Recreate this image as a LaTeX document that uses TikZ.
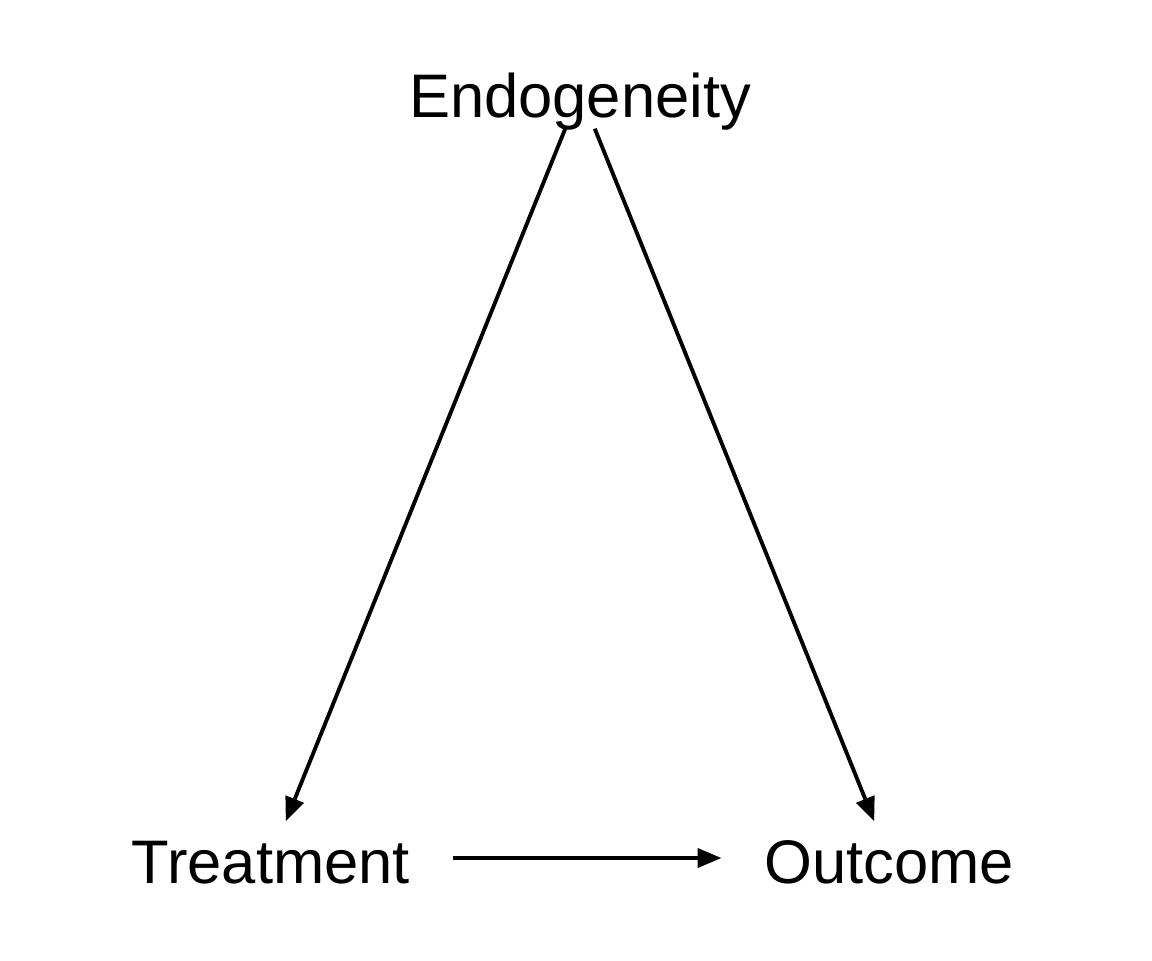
\documentclass[tikz,border=0pt]{standalone}
\usepackage{fontspec}
\setmainfont{Liberation Sans}
\usetikzlibrary{arrows.meta,positioning}
\tikzset{
  dagnode/.style={
    font=\fontsize{17.5}{20}\selectfont,
    text height=0.56cm,
    text depth=0.06cm,
    inner xsep=0.42cm,
    inner ysep=0.05cm
  },
  dagarrow/.style={-{Triangle[length=0.24cm,width=0.19cm]}, line width=1.1pt}
}
\begin{document}
\begin{tikzpicture}
  \useasboundingbox (0,0) rectangle (11.52,9.6);
  \node[dagnode, anchor=base] (endo) at (5.80,8.43) {Endogeneity};
  \node[dagnode, anchor=base] (treat) at (2.71,0.77) {Treatment};
  \node[dagnode, anchor=base] (outcome) at (8.89,0.77) {Outcome};

  \draw[dagarrow] (endo) -- (treat);
  \draw[dagarrow] (endo) -- (outcome);
  \draw[dagarrow] (treat) -- (outcome);
\end{tikzpicture}
\end{document}
